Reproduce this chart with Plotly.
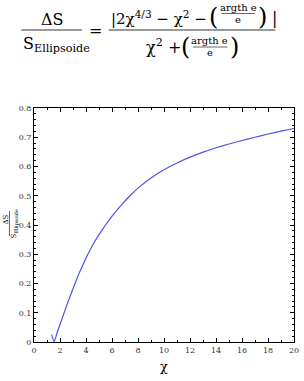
import plotly.graph_objects as go

# data
chi = [1.35, 1.55, 1.8, 2.2, 2.6, 3.0, 3.5, 4.0, 4.5, 5.0, 5.5, 6.0, 6.5, 7.0, 7.5, 8.0,
       9.0, 10.0, 11.0, 12.0, 13.0, 14.0, 15.0, 16.0, 17.0, 18.0, 19.0, 20.0]
ratio = [0.025, 0.0, 0.035, 0.085, 0.135, 0.182, 0.238, 0.287, 0.33, 0.367, 0.40, 0.43,
         0.457, 0.482, 0.505, 0.526, 0.561, 0.589, 0.612, 0.632, 0.649, 0.664, 0.677,
         0.689, 0.700, 0.711, 0.721, 0.730]
x_ticks = [0, 2, 4, 6, 8, 10, 12, 14, 16, 18, 20]
y_ticks = [0, 0.1, 0.2, 0.3, 0.4, 0.5, 0.6, 0.7, 0.8]
y_tick_labels = ["0", "0.1", "0.2", "0.3", "0.4", "0.5", "0.6", "0.7", "0.8"]

W, H = 304, 381
L, R, T, B = 34, 5, 108, 39
PW, PH = W - L - R, H - T - B
FONT = "DejaVu Serif"


def px(x, y):
    return (x - L) / PW, (H - B - y) / PH


fig = go.Figure()
fig.add_trace(go.Scatter(x=chi, y=ratio, mode="lines",
                         line=dict(color="#5252e6", width=1.2, shape="spline", smoothing=0.3),
                         hoverinfo="skip", showlegend=False))

axis_common = dict(showline=True, linecolor="black", linewidth=1, mirror="ticks",
                   ticks="inside", ticklen=4, tickcolor="black", showgrid=False,
                   zeroline=False, ticklabeloverflow="allow",
                   tickfont=dict(family=FONT, size=8, color="#333"))
fig.update_xaxes(range=[0, 20], tickvals=x_ticks,
                 minor=dict(dtick=1, ticks="inside", ticklen=2, tickcolor="black"),
                 **axis_common)
fig.update_yaxes(range=[0, 0.8], tickvals=y_ticks, ticktext=y_tick_labels,
                 minor=dict(dtick=0.02, ticks="inside", ticklen=2, tickcolor="black"),
                 **axis_common)

ann = []
shapes = []


def text(x, y, s, size, xanchor="center", angle=0):
    xx, yy = px(x, y)
    ann.append(dict(x=xx, y=yy, xref="paper", yref="paper", text=s, showarrow=False,
                    xanchor=xanchor, yanchor="middle", textangle=angle,
                    font=dict(family=FONT, size=size, color="black")))


def hline(x0, x1, y, w=0.8):
    a0, b0 = px(x0, y)
    a1, _ = px(x1, y)
    shapes.append(dict(type="line", xref="paper", yref="paper", x0=a0, x1=a1, y0=b0, y1=b0,
                       line=dict(color="black", width=w)))


def vline(x, y0, y1, w=0.6):
    a0, b0 = px(x, y0)
    _, b1 = px(x, y1)
    shapes.append(dict(type="line", xref="paper", yref="paper", x0=a0, x1=a0, y0=b0, y1=b1,
                       line=dict(color="black", width=w)))


# x-axis title
text(166, 366, "χ", 13)

# y-axis title (rotated fraction)
text(5, 220, "ΔS", 7, angle=-90)
vline(9, 211, 236)
text(14, 224, "S<sub>Ellipsoide</sub>", 7, angle=-90)

# formula at top
text(53, 19, "ΔS", 16)
hline(21, 83, 30)
text(21, 44, "S<sub>Ellipsoide</sub>", 16, xanchor="left")
text(97, 30, "=", 16)
hline(110, 280, 30)
text(110, 18, "|2χ<sup>4/3</sup> − χ<sup>2</sup> −", 15, xanchor="left")
text(217, 17, "(", 24)
text(242, 8, "argth e", 10)
hline(225, 259, 13.5, 0.6)
text(242, 19, "e", 10)
text(267, 17, ")", 24)
text(279, 18, "|", 16)
text(146, 46, "χ<sup>2</sup> +", 16, xanchor="left")
text(188, 47, "(", 24)
text(213, 41, "argth e", 10)
hline(196, 231, 47, 0.6)
text(213, 53, "e", 10)
text(238, 47, ")", 24)

fig.update_layout(width=W, height=H, margin=dict(l=L, r=R, t=T, b=B),
                  paper_bgcolor="white", plot_bgcolor="white",
                  annotations=ann, shapes=shapes,
                  font=dict(family=FONT))
fig.write_html("out.html")
